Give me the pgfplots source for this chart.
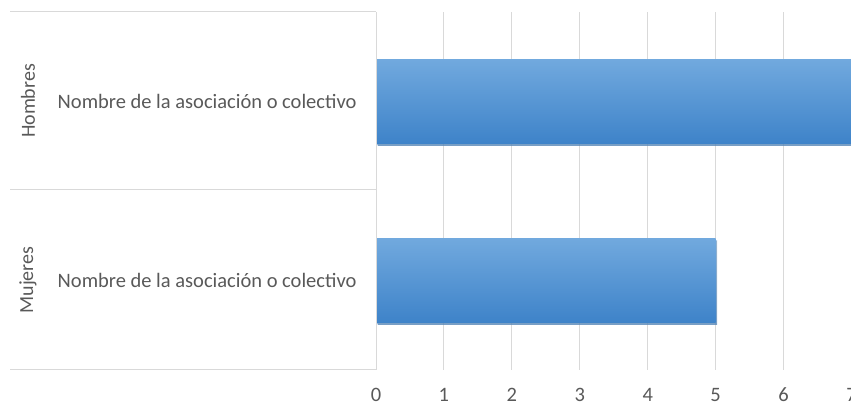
\documentclass[border=0pt]{standalone}
\usepackage{pgfplots}
\pgfplotsset{compat=1.18}
\usepackage{fontspec}
\setmainfont{Carlito}
\definecolor{txt}{HTML}{595959}
\definecolor{gridc}{HTML}{D9D9D9}
\definecolor{bartop}{HTML}{71A9DE}
\definecolor{barbot}{HTML}{3E83C9}
\begin{document}
\begin{tikzpicture}[x=1pt,y=1pt]
\useasboundingbox (0,0) rectangle (851,406);
\begin{axis}[
  at={(376pt,36pt)}, anchor=south west,
  scale only axis, width=475.5pt, height=358pt,
  xmin=0, xmax=7, ymin=0, ymax=2,
  xtick={0,1,2,3,4,5,6,7},
  ytick={0.5,1.5},
  yticklabels={Nombre de la asociación o colectivo,Nombre de la asociación o colectivo},
  yticklabel style={anchor=east, xshift=-16pt},
  xticklabel style={anchor=base, yshift=-32pt, inner sep=0pt},
  major tick length=0pt,
  xmajorgrids, grid style={gridc, line width=1pt},
  axis line style={draw=none},
  clip=false,
  ticklabel style={font=\fontsize{20.5}{22}\selectfont, text=txt},
  /pgf/number format/assume math mode=true,
  xbar, bar width=84pt, bar shift=0pt,
]
\addplot[draw=none, top color=bartop, bottom color=barbot,
  preaction={fill=black!45, fill opacity=0.55, transform canvas={shift={(1.5pt,-2.5pt)}}}]
  coordinates {(7,1.5)};
\addplot[draw=none, top color=bartop, bottom color=barbot,
  preaction={fill=black!45, fill opacity=0.55, transform canvas={shift={(1.5pt,-2.5pt)}}}]
  coordinates {(5,0.5)};
\end{axis}
\draw[gridc, line width=1pt] (376,36) -- (376,394);
\draw[gridc, line width=1pt] (10,394) -- (376,394);
\draw[gridc, line width=1pt] (10,216) -- (376,216);
\draw[gridc, line width=1pt] (10,36) -- (376,36);
\node[rotate=90, text=txt, font=\fontsize{20}{22}\selectfont] at (28,305) {Hombres};
\node[rotate=90, text=txt, font=\fontsize{20}{22}\selectfont] at (28,126) {Mujeres};
\end{tikzpicture}
\end{document}
